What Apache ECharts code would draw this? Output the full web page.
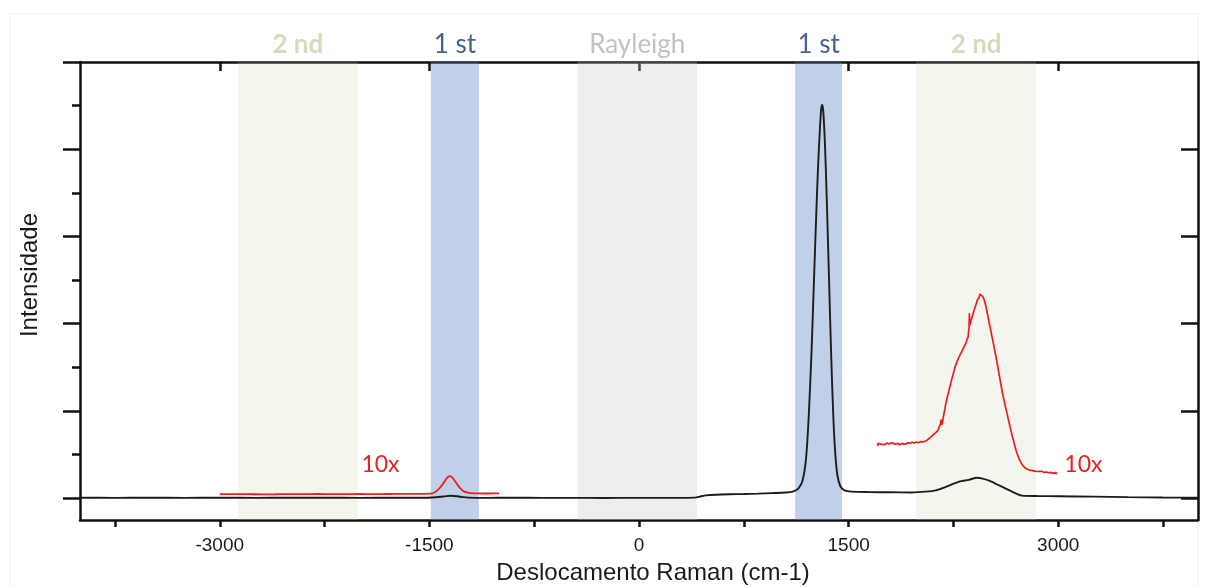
<!DOCTYPE html>
<html>
<head>
<meta charset="utf-8">
<script src="https://cdn.jsdelivr.net/npm/echarts@6/dist/echarts.min.js"></script>
<style>
  html, body { margin: 0; padding: 0; background: #ffffff; }
  #chart { width: 1207px; height: 587px; }
</style>
</head>
<body>
<div id="chart"></div>
<script>
// Raman spectrum: Stokes / anti-Stokes shift (cm-1) vs intensity (arbitrary units)
const xTicksMajor = [-3000, -1500, 0, 1500, 3000];
const xTicksAll = [-3750, -3000, -2250, -1500, -750, 0, 750, 1500, 2250, 3000, 3750];
const yTicksMajor = [0, 1, 2, 3, 4, 5];
const yTicksMinor = [0.5, 1.5, 2.5, 3.5, 4.5];
const yTicksRight = [0, 1, 2, 3, 4];

// Measured spectrum (black)
const spectrumShift = [-4000, -3750, -3500, -3250, -3000, -2750, -2500, -2250, -2000, -1750, -1550, -1480, -1420, -1380, -1345, -1300, -1260, -1220, -1100, -900, -700, -500, -250, 0, 250, 400, 440, 480, 550, 650, 750, 850, 950, 1050, 1100, 1140, 1170, 1195, 1215, 1235, 1250, 1265, 1280, 1295, 1305, 1312, 1320, 1332, 1345, 1360, 1375, 1390, 1405, 1420, 1440, 1470, 1520, 1650, 1800, 1950, 2050, 2124, 2196, 2291, 2360, 2418, 2460, 2506, 2560, 2625, 2690, 2742, 2850, 3000, 3250, 3500, 3750, 4000];
const spectrumIntensity = [0.005, 0.004, 0.006, 0.004, 0.005, 0.004, 0.006, 0.005, 0.004, 0.005, 0.005, 0.008, 0.016, 0.024, 0.028, 0.022, 0.012, 0.006, 0.004, 0.005, 0.004, 0.004, 0.003, 0.004, 0.004, 0.006, 0.02, 0.032, 0.04, 0.045, 0.048, 0.052, 0.058, 0.065, 0.075, 0.11, 0.2, 0.45, 0.95, 1.7, 2.4, 3.1, 3.75, 4.25, 4.48, 4.51, 4.4, 4.0, 3.35, 2.5, 1.65, 0.95, 0.5, 0.26, 0.14, 0.09, 0.075, 0.07, 0.068, 0.066, 0.075, 0.09, 0.13, 0.19, 0.21, 0.235, 0.225, 0.2, 0.16, 0.11, 0.06, 0.03, 0.025, 0.022, 0.018, 0.012, 0.008, 0.005];

// 10x magnified anti-Stokes segment (red, left)
const zoomLeftShift = [-3000, -2900, -2800, -2700, -2600, -2500, -2400, -2300, -2200, -2100, -2000, -1900, -1800, -1700, -1600, -1500, -1470, -1430, -1400, -1375, -1356, -1335, -1310, -1280, -1250, -1217, -1150, -1080, -1000];
const zoomLeftIntensity = [0.045, 0.047, 0.046, 0.044, 0.045, 0.047, 0.046, 0.048, 0.046, 0.047, 0.048, 0.046, 0.048, 0.049, 0.05, 0.052, 0.06, 0.11, 0.17, 0.23, 0.253, 0.235, 0.18, 0.115, 0.075, 0.062, 0.056, 0.054, 0.055];

// 10x magnified second-order Stokes segment (red, right)
const zoomRightShift = [1706, 1712, 1720, 1730, 1740, 1760, 1775, 1790, 1805, 1820, 1835, 1850, 1865, 1880, 1895, 1910, 1925, 1940, 1955, 1970, 1985, 2000, 2015, 2030, 2053, 2080, 2110, 2135, 2150, 2158, 2162, 2168, 2180, 2196, 2220, 2243, 2265, 2291, 2315, 2339, 2355, 2362, 2364, 2367, 2380, 2399, 2422, 2434, 2440, 2446, 2452, 2460, 2470, 2485, 2506, 2530, 2554, 2578, 2601, 2625, 2649, 2673, 2697, 2720, 2744, 2768, 2792, 2810, 2830, 2850, 2864, 2880, 2900, 2915, 2930, 2945, 2960, 2975, 2995];
const zoomRightIntensity = [0.598, 0.63, 0.645, 0.62, 0.635, 0.615, 0.632, 0.622, 0.636, 0.628, 0.618, 0.63, 0.612, 0.628, 0.62, 0.622, 0.635, 0.63, 0.641, 0.632, 0.645, 0.635, 0.648, 0.645, 0.655, 0.69, 0.735, 0.77, 0.82, 0.86, 0.9, 0.84, 0.95, 1.09, 1.25, 1.394, 1.52, 1.624, 1.7, 1.778, 1.85, 1.97, 2.12, 1.98, 2.06, 2.161, 2.276, 2.3, 2.34, 2.33, 2.36, 2.31, 2.276, 2.18, 2.008, 1.82, 1.624, 1.41, 1.203, 1.03, 0.859, 0.7, 0.552, 0.45, 0.379, 0.34, 0.322, 0.318, 0.31, 0.306, 0.302, 0.31, 0.295, 0.3, 0.292, 0.296, 0.285, 0.29, 0.284];

// Shaded regions: Rayleigh line and first/second order Raman bands
const bandNames = ['2 nd', '1 st', 'Rayleigh', '1 st', '2 nd'];
const bandStart = [-2870, -1490, -440, 1117, 1983];
const bandEnd = [-2012, -1146, 415, 1453, 2842];
const bandKind = ['second', 'first', 'rayleigh', 'first', 'second'];

const bandStyle = {
  second: { fill: 'rgba(190, 208, 160, 0.20)', text: '#d4dcbd', weight: 'bold' },
  first: { fill: 'rgba(83, 125, 194, 0.36)', text: '#46638e', weight: 'normal' },
  rayleigh: { fill: 'rgba(200, 200, 200, 0.30)', text: '#c2c2c2', weight: 'normal' }
};

const zip = (xs, ys) => xs.map((x, i) => [x, ys[i]]);

const axisColor = '#111111';
const labelFont = 'Liberation Sans, Arial, sans-serif';
const noteFont = 'Lato, Open Sans, sans-serif';

const bandData = bandNames.map((name, i) => {
  const st = bandStyle[bandKind[i]];
  return [
    {
      name: name,
      xAxis: bandStart[i],
      itemStyle: { color: st.fill },
      label: {
        show: true,
        position: 'top',
        distance: 4,
        color: st.text,
        fontFamily: noteFont,
        fontSize: 26,
        fontWeight: st.weight,
        formatter: '{b}'
      }
    },
    { xAxis: bandEnd[i] }
  ];
});

const chart = echarts.init(document.getElementById('chart'), null, { renderer: 'canvas' });

const option = {
  animation: false,
  backgroundColor: '#ffffff',
  grid: { left: 80, right: 9, top: 62, bottom: 67, containLabel: false },
  xAxis: [
    {
      type: 'value',
      position: 'bottom',
      min: -4000,
      max: 4000,
      splitLine: { show: false },
      axisLine: { show: true, onZero: false, lineStyle: { color: axisColor, width: 2.5 } },
      axisTick: { show: true, inside: false, length: 7, customValues: xTicksAll, lineStyle: { color: axisColor, width: 2.5 } },
      axisLabel: {
        show: true,
        customValues: xTicksMajor,
        formatter: (v) => String(v),
        margin: 16,
        fontSize: 19,
        fontFamily: labelFont,
        color: '#1a1a1a'
      }
    },
    {
      type: 'value',
      position: 'top',
      min: -4000,
      max: 4000,
      splitLine: { show: false },
      axisLine: { show: true, onZero: false, lineStyle: { color: axisColor, width: 2.5 } },
      axisTick: { show: true, inside: true, length: 9, customValues: xTicksMajor, lineStyle: { color: axisColor, width: 2.5 } },
      axisLabel: { show: false }
    }
  ],
  yAxis: [
    {
      type: 'value',
      position: 'left',
      min: -0.25,
      max: 5,
      splitLine: { show: false },
      axisLine: { show: true, onZero: false, lineStyle: { color: axisColor, width: 2.5 } },
      axisTick: { show: true, inside: false, length: 17, customValues: yTicksMajor, lineStyle: { color: axisColor, width: 2.5 } },
      axisLabel: { show: false }
    },
    {
      type: 'value',
      position: 'left',
      min: -0.25,
      max: 5,
      splitLine: { show: false },
      axisLine: { show: false, onZero: false },
      axisTick: { show: true, inside: false, length: 8, customValues: yTicksMinor, lineStyle: { color: axisColor, width: 2.5 } },
      axisLabel: { show: false }
    },
    {
      type: 'value',
      position: 'right',
      min: -0.25,
      max: 5,
      splitLine: { show: false },
      axisLine: { show: true, onZero: false, lineStyle: { color: axisColor, width: 2.5 } },
      axisTick: { show: true, inside: true, length: 17, customValues: yTicksRight, lineStyle: { color: axisColor, width: 2.5 } },
      axisLabel: { show: false }
    }
  ],
  series: [
    {
      name: 'Espectro',
      type: 'line',
      xAxisIndex: 0,
      yAxisIndex: 0,
      data: zip(spectrumShift, spectrumIntensity),
      showSymbol: false,
      smooth: 0.25,
      lineStyle: { color: '#1c1c1c', width: 1.9 },
      z: 3
    },
    {
      name: '10x anti-Stokes',
      type: 'line',
      xAxisIndex: 0,
      yAxisIndex: 0,
      data: zip(zoomLeftShift, zoomLeftIntensity),
      showSymbol: false,
      smooth: 0.2,
      lineStyle: { color: '#f01c1c', width: 1.8 },
      z: 4,
      markPoint: {
        symbol: 'circle',
        symbolSize: 0,
        data: [{ coord: [-1850, 0.38], value: '10x' }],
        label: { show: true, position: 'inside', formatter: '10x', color: '#e3231d', fontFamily: noteFont, fontSize: 23 }
      }
    },
    {
      name: '10x Stokes',
      type: 'line',
      xAxisIndex: 0,
      yAxisIndex: 0,
      data: zip(zoomRightShift, zoomRightIntensity),
      showSymbol: false,
      lineStyle: { color: '#f01c1c', width: 1.7 },
      z: 4,
      markPoint: {
        symbol: 'circle',
        symbolSize: 0,
        data: [{ coord: [3180, 0.38], value: '10x' }],
        label: { show: true, position: 'inside', formatter: '10x', color: '#e3231d', fontFamily: noteFont, fontSize: 23 }
      }
    },
    {
      name: 'Bandas',
      type: 'line',
      xAxisIndex: 0,
      yAxisIndex: 0,
      data: [],
      silent: true,
      z: 10,
      markArea: {
        silent: true,
        data: bandData
      }
    }
  ],
  graphic: [
    {
      type: 'rect',
      silent: true,
      z: -10,
      shape: { x: 10.5, y: 13.5, width: 1187, height: 590 },
      style: { fill: 'none', stroke: '#efefef', lineWidth: 1 }
    },
    {
      type: 'text',
      x: 653,
      y: 573,
      style: {
        text: 'Deslocamento Raman (cm-1)',
        fontFamily: labelFont,
        fontSize: 24,
        fill: '#1a1a1a',
        textAlign: 'center',
        textVerticalAlign: 'middle'
      }
    },
    {
      type: 'text',
      x: 30,
      y: 275,
      rotation: Math.PI / 2,
      style: {
        text: 'Intensidade',
        fontFamily: labelFont,
        fontSize: 24,
        fill: '#1a1a1a',
        textAlign: 'center',
        textVerticalAlign: 'middle'
      }
    }
  ]
};

chart.setOption(option);
</script>
</body>
</html>
